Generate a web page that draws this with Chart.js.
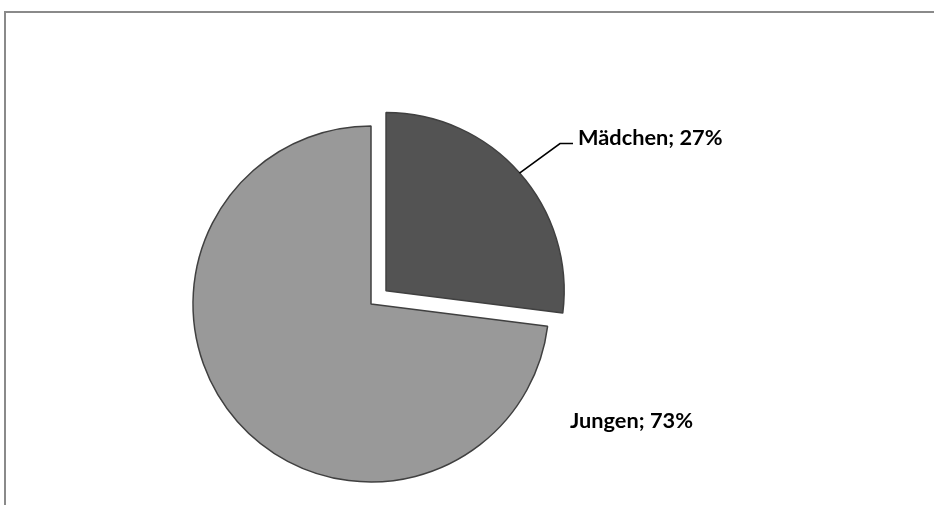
<!DOCTYPE html>
<html>
<head>
<meta charset="utf-8">
<script src="https://cdn.jsdelivr.net/npm/chart.js@4/dist/chart.umd.min.js"></script>
<style>
  html, body { margin: 0; padding: 0; background: #fff; }
  #wrap { position: relative; width: 934px; height: 505px; overflow: hidden; }
  #frame { position: absolute; left: 4px; top: 11px; width: 960px; height: 520px; border: 2px solid #8a8a8a; box-sizing: border-box; }
  canvas { position: absolute; left: 0; top: 0; }
</style>
</head>
<body>
<div id="wrap">
  <div id="frame"></div>
  <canvas id="c" width="934" height="505"></canvas>
</div>
<script>
const categories = ["Mädchen", "Jungen"];
const shares = [27, 73];
const labelTexts = ["Mädchen; 27%", "Jungen; 73%"];
const fills = ["#535353", "#999999"];
// Chart.js draws an arc's offset at 1/4 of the option value
const explode = [80, 0];

const FONT_FAMILY = "Lato, 'Liberation Sans', sans-serif";

const labelPlugin = {
  id: 'excelLabels',
  afterDatasetsDraw(chart) {
    const ctx = chart.ctx;
    const meta = chart.getDatasetMeta(0);
    const [a0, a1] = meta.data;
    ctx.save();
    ctx.font = "bold 100px " + FONT_FAMILY;
    const w100 = ctx.measureText(labelTexts[1]).width;
    const size = 100 * 123 / w100;
    ctx.font = "bold " + size.toFixed(2) + "px " + FONT_FAMILY;
    ctx.fillStyle = "#000";
    ctx.textBaseline = "alphabetic";
    ctx.textAlign = "left";

    const p0 = a0.getProps(['x', 'y', 'startAngle', 'endAngle', 'outerRadius']);
    const mid = (p0.startAngle + p0.endAngle) / 2;
    const off = (a0.options.offset || 0) / 4;
    const cx = p0.x + Math.cos(mid) * off;
    const cy = p0.y + Math.sin(mid) * off;
    const ex = cx + Math.cos(mid) * p0.outerRadius;
    const ey = cy + Math.sin(mid) * p0.outerRadius;
    const kx = 560, ky = 143.5;
    ctx.strokeStyle = "#000";
    ctx.lineWidth = 1.6;
    ctx.beginPath();
    ctx.moveTo(ex, ey);
    ctx.lineTo(kx, ky);
    ctx.lineTo(kx + 13, ky);
    ctx.stroke();
    ctx.fillText(labelTexts[0], kx + 18, ky + 1.5);

    const p1 = a1.getProps(['x', 'y', 'outerRadius']);
    ctx.fillText(labelTexts[1], p1.x + p1.outerRadius * 1.118, p1.y + p1.outerRadius * 0.697);
    ctx.restore();
  }
};

new Chart(document.getElementById('c'), {
  type: 'pie',
  data: {
    labels: categories,
    datasets: [{
      data: shares,
      backgroundColor: fills,
      borderColor: "#404040",
      borderWidth: 1.5,
      offset: explode,
      hoverOffset: 0
    }]
  },
  options: {
    responsive: false,
    animation: false,
    radius: 178,
    rotation: 0,
    layout: { padding: { left: 10, right: 202, top: 110, bottom: 7 } },
    plugins: {
      legend: { display: false },
      tooltip: { enabled: false },
      title: { display: false }
    },
    events: []
  },
  plugins: [labelPlugin]
});
</script>
</body>
</html>
